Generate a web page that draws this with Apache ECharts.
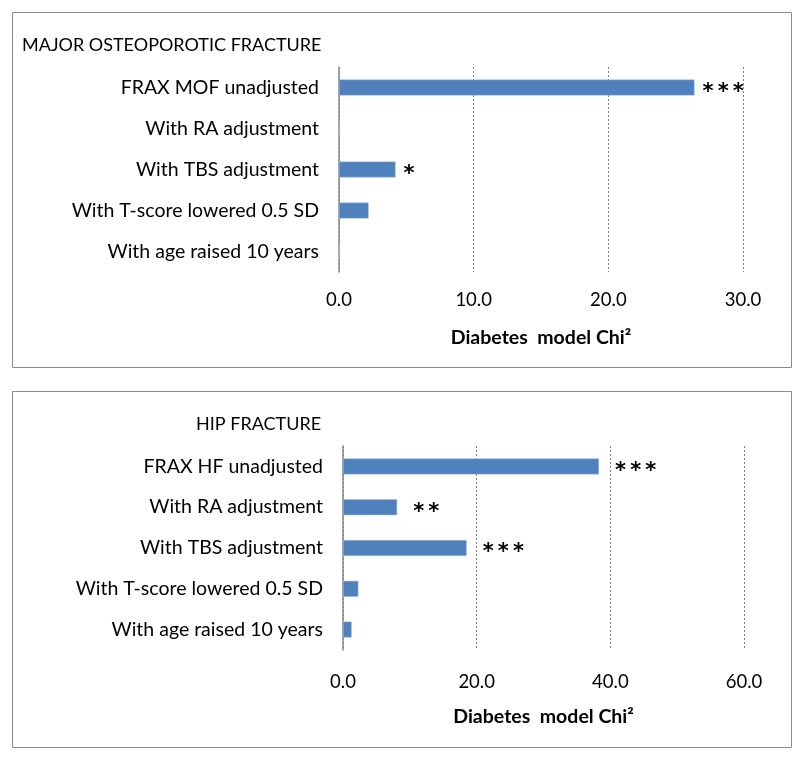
<!DOCTYPE html>
<html><head><meta charset="utf-8">
<script src="https://cdn.jsdelivr.net/npm/echarts@6/dist/echarts.min.js"></script>
<style>html,body{margin:0;padding:0;background:#fff}#c{width:800px;height:759px}</style>
</head><body><div id="c"></div>
<script>
const mofCategories = ["FRAX MOF unadjusted","With RA adjustment","With TBS adjustment","With T-score lowered 0.5 SD","With age raised 10 years"];
const mofValues = [26.4, 0, 4.2, 2.2, 0];
const mofStars = ["***", "", "*", "", ""];
const hipCategories = ["FRAX HF unadjusted","With RA adjustment","With TBS adjustment","With T-score lowered 0.5 SD","With age raised 10 years"];
const hipValues = [38.3, 8.1, 18.5, 2.3, 1.3];
const hipStars = ["***", "**", "***", "", ""];
const mofTicks = {min: 0, max: 30, interval: 10};
const hipTicks = {min: 0, max: 60, interval: 20};
const panelTitles = ["MAJOR OSTEOPOROTIC FRACTURE", "HIP FRACTURE"];
const axisTitle = "Diabetes  model Chi²";

const FONT = "Lato";
const chart = echarts.init(document.getElementById('c'), null, {renderer: 'canvas'});

function xAx(idx, t, gap, margin) {
  return {
    gridIndex: idx, type: 'value', min: t.min, max: t.max, interval: t.interval,
    axisLine: {show: false}, axisTick: {show: false},
    axisLabel: {color: '#000', fontFamily: FONT, fontSize: 18.5, margin: margin, formatter: v => v.toFixed(1)},
    splitLine: {show: true, lineStyle: {color: '#808080', type: [2, 2], width: 1}},
    name: axisTitle, nameLocation: 'middle', nameGap: gap,
    nameTextStyle: {color: '#000', fontFamily: FONT, fontSize: 19.5, fontWeight: 'bold'}
  };
}
function yAx(idx, cats) {
  return {
    gridIndex: idx, type: 'category', data: cats, inverse: true,
    axisLine: {show: true, lineStyle: {color: '#868686', width: 1.5}},
    axisTick: {show: false},
    axisLabel: {color: '#000', fontFamily: FONT, fontSize: 19.5, margin: 20},
    splitLine: {show: false}
  };
}
function ser(idx, vals, stars, dist) {
  return {
    type: 'bar', xAxisIndex: idx, yAxisIndex: idx, data: vals, barWidth: 16,
    itemStyle: {color: '#4F81BD', borderColor: '#a9c1e0', borderWidth: 0.5},
    label: {show: true, position: 'right', distance: dist, color: '#000', fontFamily: 'DejaVu Sans', fontSize: 21, fontWeight: 'bold',
      formatter: p => stars[p.dataIndex].split('').join('\u2009'), offset: [0, 5]},
    silent: true
  };
}

chart.setOption({
  animation: false,
  backgroundColor: '#fff',
  graphic: [
    {type: 'rect', shape: {x: 12.5, y: 12.5, width: 779, height: 355}, style: {fill: 'none', stroke: '#8c8c8c', lineWidth: 1}},
    {type: 'rect', shape: {x: 12.5, y: 391.5, width: 779, height: 356}, style: {fill: 'none', stroke: '#8c8c8c', lineWidth: 1}}
  ],
  title: [
    {text: panelTitles[0], left: 17, top: 31, textStyle: {color: '#000', fontFamily: FONT, fontSize: 18, fontWeight: 'normal'}},
    {text: panelTitles[1], left: 191, top: 410, textStyle: {color: '#000', fontFamily: FONT, fontSize: 18, fontWeight: 'normal'}}
  ],
  grid: [
    {left: 339, right: 57, top: 67, height: 205},
    {left: 343, right: 56, top: 446, height: 204}
  ],
  xAxis: [xAx(0, mofTicks, 56, 19), xAx(1, hipTicks, 57, 23)],
  yAxis: [yAx(0, mofCategories), yAx(1, hipCategories)],
  series: [ser(0, mofValues, mofStars, 8), ser(1, hipValues, hipStars, 16)]
});
</script></body></html>
